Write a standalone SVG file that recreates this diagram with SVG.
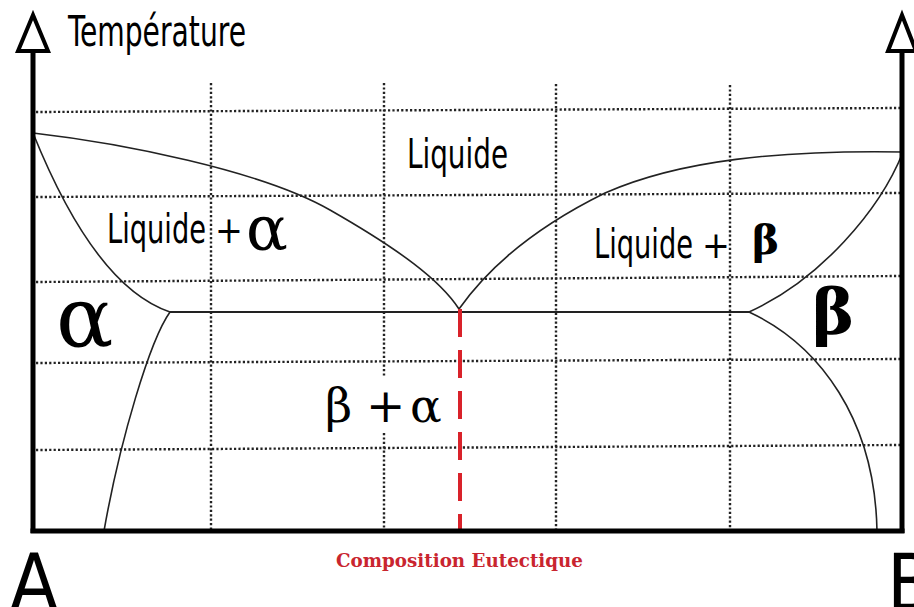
<svg xmlns="http://www.w3.org/2000/svg" width="914" height="607" viewBox="0 0 914 607">
<style>
.grid{stroke:#222;stroke-width:2.4;stroke-dasharray:2.2 2.2;fill:none}
.axis{stroke:#000;stroke-width:5;fill:none}
.curve{stroke:#222;stroke-width:1.6;fill:none}
.arrow{fill:#fff;stroke:#000;stroke-width:4;stroke-linejoin:miter}
.sans{font-family:"DejaVu Sans Condensed","DejaVu Sans",sans-serif;fill:#000}
.greek{font-family:"DejaVu Serif","Liberation Serif",serif;fill:#000}
.red{font-family:"DejaVu Serif","Liberation Serif",serif;font-weight:bold;fill:#c9252f}
</style>
<rect width="914" height="607" fill="#fff"/>
<g id="grid">
<line class="grid" x1="36" y1="112" x2="900" y2="108"/>
<line class="grid" x1="36" y1="197" x2="900" y2="193"/>
<line class="grid" x1="36" y1="282" x2="900" y2="276"/>
<line class="grid" x1="36" y1="363" x2="900" y2="359"/>
<line class="grid" x1="36" y1="450" x2="900" y2="445"/>
<line class="grid" x1="211" y1="83" x2="211" y2="529"/>
<line class="grid" x1="384" y1="83" x2="384" y2="377"/>
<line class="grid" x1="384" y1="433" x2="384" y2="529"/>
<line class="grid" x1="556" y1="84" x2="556" y2="529"/>
<line class="grid" x1="730" y1="85" x2="730" y2="529"/>
</g>
<g id="connectors">
<path class="curve" d="M33,133 C120,143 260,170 330,210 S440,280 459,309"/>
<path class="curve" d="M459,309 C490,265 540,225 605,193 C680,160 780,150 903,152"/>
<path class="curve" d="M33,133 C60,200 105,290 170,312"/>
<path class="curve" d="M170,312 C150,340 120,440 104,531"/>
<path class="curve" d="M903,152 C880,210 820,280 749,312"/>
<path class="curve" d="M749,312 C820,345 875,420 877,531"/>
<line x1="170" y1="312" x2="749" y2="312" stroke="#222" stroke-width="2"/>
<line x1="460" y1="309" x2="460" y2="531" stroke="#d9222a" stroke-width="4" stroke-dasharray="28 13"/>
</g>
<g id="axes">
<line class="axis" x1="33" y1="50" x2="33" y2="533"/>
<line class="axis" x1="902" y1="50" x2="902" y2="533"/>
<line class="axis" x1="30.5" y1="531" x2="904.5" y2="531"/>
<polygon class="arrow" points="33,15 18,51 48,51"/>
<polygon class="arrow" points="902,15 888,51 916,51"/>
</g>
<g id="labels">
<text class="sans" x="68" y="46" font-size="42" textLength="178" lengthAdjust="spacingAndGlyphs">Température</text>
<text class="sans" x="407" y="168" font-size="41" textLength="101" lengthAdjust="spacingAndGlyphs">Liquide</text>
<text class="sans" y="243" font-size="41"><tspan x="107" textLength="99" lengthAdjust="spacingAndGlyphs">Liquide</tspan><tspan x="215" font-size="37">+</tspan><tspan class="greek" x="246" y="250" font-size="62">α</tspan></text>
<text class="sans" y="258" font-size="41"><tspan x="594" textLength="99" lengthAdjust="spacingAndGlyphs">Liquide</tspan><tspan x="702" font-size="37">+</tspan><tspan class="greek" x="752" y="254" font-size="41" font-weight="bold">β</tspan></text>
<text class="greek" x="56" y="347" font-size="85">α</text>
<text class="greek" x="812" y="334" font-size="64" font-weight="bold">β</text>
<text class="greek" font-size="47" y="422"><tspan x="325">β</tspan><tspan x="366">+</tspan><tspan x="410">α</tspan></text>
<text class="red" x="336" y="567" font-size="18" textLength="247" lengthAdjust="spacingAndGlyphs">Composition Eutectique</text>
<text class="sans" x="10" y="610" font-size="78">A</text>
<text class="sans" x="887" y="610" font-size="78">B</text>
</g>
</svg>
